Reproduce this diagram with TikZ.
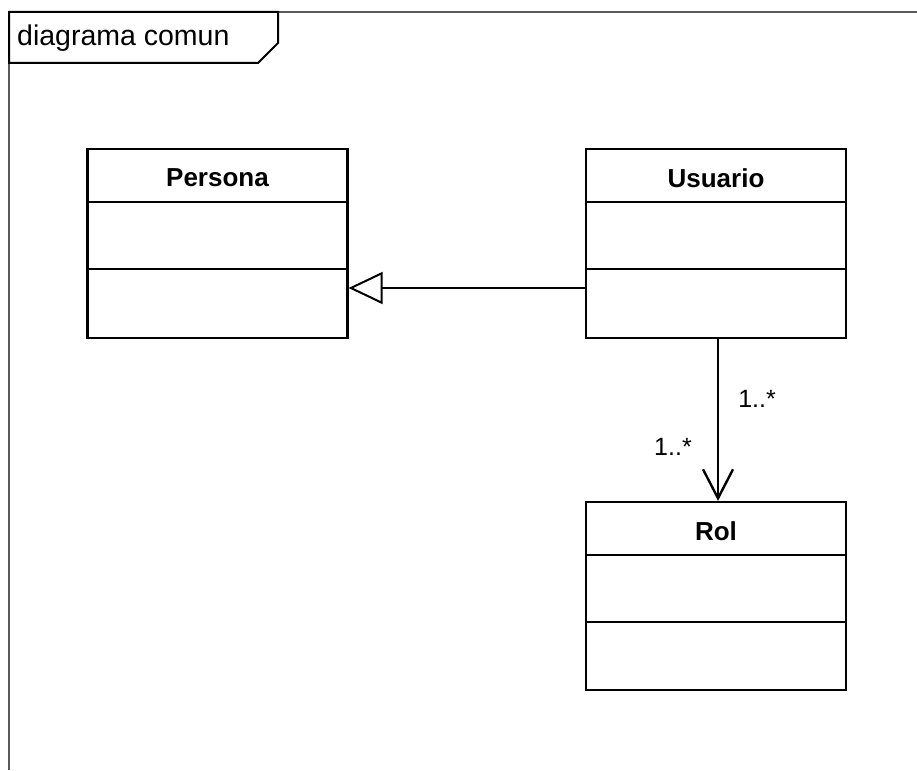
\documentclass[tikz,border=0pt]{standalone}
\usepackage{fontspec}
\setmainfont{Liberation Sans}
\usetikzlibrary{arrows.meta}
\tikzset{
  classbox/.style={draw=black, line width=2.2pt, minimum width=260pt, minimum height=189pt, inner sep=0pt, fill=white},
  classname/.style={font=\fontsize{26}{30}\selectfont\bfseries, inner sep=0pt},
  divider/.style={draw=black, line width=2.2pt},
  gen/.style={draw=black, line width=2pt, -{Triangle[open, length=34pt, width=32pt, line width=2pt]}},
  assoc/.style={draw=black, line width=2.2pt, -{Straight Barb[length=29pt, width=30pt, line width=2.4pt]}},
  mult/.style={font=\fontsize{25}{30}\selectfont, inner sep=0pt},
  framebox/.style={draw=black, line width=2pt},
}
\begin{document}
\begin{tikzpicture}[x=1pt, y=-1pt]
\useasboundingbox (0,0) rectangle (917,770);
% frame
\draw[draw=black!65, line width=2pt] (917,12) -- (9,12) -- (9,770);
\draw[framebox, fill=white] (9,12) -- (278,12) -- (278,43) -- (258,63) -- (9,63) -- cycle;
\node[anchor=west, inner sep=0pt, font=\fontsize{28.5}{32}\selectfont] (framelabel) at (17,38) {diagrama comun};
% classes
\node[classbox] (persona) at (217.5,243.5) {};
\node[classbox] (usuario) at (716,243.5) {};
\node[classbox, minimum height=188pt] (rol) at (716,596) {};
\foreach \c in {persona,usuario,rol}{
  \draw[divider] ([yshift=-54pt]\c.north west) -- ([yshift=-54pt]\c.north east);
  \draw[divider] ([yshift=-121pt]\c.north west) -- ([yshift=-121pt]\c.north east);
}
\node[classname] (personaname) at (217.5,178) {Persona};
\node[classname] (usuarioname) at (716,178) {Usuario};
\node[classname] (rolname) at (716,531) {Rol};
% connectors
\draw[gen] ([yshift=-44.5pt]usuario.west) -- ([yshift=-44.5pt]persona.east);
\draw[assoc] ([xshift=2pt]usuario.south) -- ([xshift=2pt]rol.north);
\node[mult] (m1) at (757,399) {1..*};
\node[mult] (m2) at (673,447) {1..*};
\end{tikzpicture}
\end{document}
